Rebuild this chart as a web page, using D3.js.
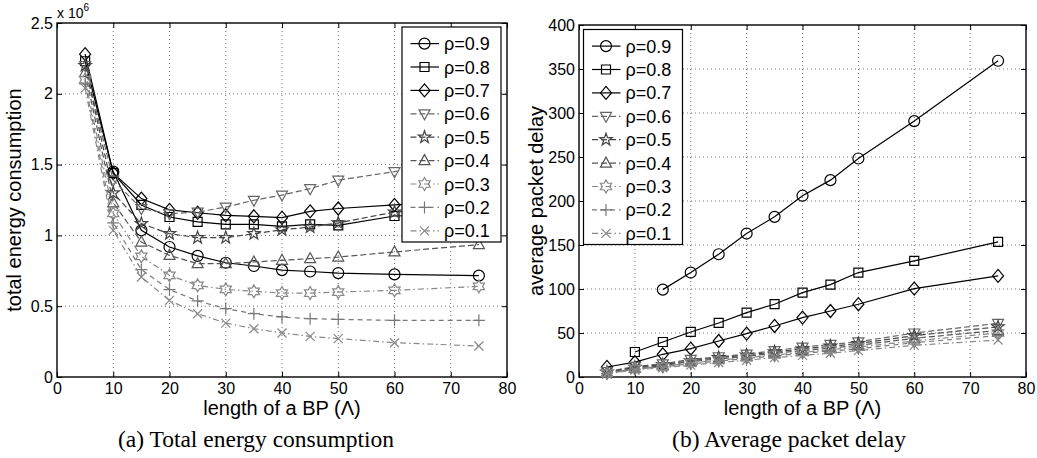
<!DOCTYPE html>
<html>
<head>
<meta charset="utf-8">
<script src="https://cdn.jsdelivr.net/npm/d3@7"></script>
<style>
  body { margin: 0; background: #fff; }
  svg { display: block; font-family: "Liberation Sans", Arial, sans-serif; }
</style>
</head>
<body>
<svg id="chart" width="1037" height="458"></svg>
<script>
// BP length (x values shared by both panels)
const bpLen = [5, 10, 15, 20, 25, 30, 35, 40, 45, 50, 60, 75]
const rhoLabels = ["ρ=0.9", "ρ=0.8", "ρ=0.7", "ρ=0.6", "ρ=0.5", "ρ=0.4", "ρ=0.3", "ρ=0.2", "ρ=0.1"]

// total energy consumption, in units of 10^6
const energy09 = [null, 1.45, 1.036, 0.918, 0.855, 0.807, 0.784, 0.755, 0.745, 0.734, 0.725, 0.716]
const energy08 = [2.23, 1.44, 1.215, 1.13, 1.095, 1.078, 1.078, 1.064, 1.078, 1.071, 1.137, 1.15]
const energy07 = [2.28, 1.44, 1.26, 1.18, 1.16, 1.142, 1.135, 1.125, 1.17, 1.19, 1.215, 1.25]
const energy06 = [2.2, 1.39, 1.19, 1.153, 1.165, 1.2, 1.248, 1.285, 1.33, 1.39, 1.45, 1.55]
const energy05 = [2.2, 1.3, 1.083, 1.012, 0.984, 0.984, 1.012, 1.04, 1.059, 1.088, 1.165, 1.2]
const energy04 = [2.15, 1.23, 0.953, 0.859, 0.8, 0.8, 0.812, 0.824, 0.836, 0.847, 0.883, 0.935]
const energy03 = [2.1, 1.155, 0.852, 0.718, 0.647, 0.619, 0.605, 0.593, 0.593, 0.6, 0.612, 0.64]
const energy02 = [2.07, 1.088, 0.758, 0.617, 0.537, 0.483, 0.447, 0.424, 0.412, 0.407, 0.4, 0.4]
const energy01 = [2.04, 1.036, 0.706, 0.541, 0.447, 0.381, 0.341, 0.311, 0.287, 0.271, 0.242, 0.219]

// average packet delay
const delay09 = [null, null, 99.3, 118.7, 139.5, 163, 182, 206, 223.7, 248.3, 290.8, 359.4]
const delay08 = [null, 28.4, 39.8, 51.2, 61.4, 73.2, 82.7, 95.9, 105, 118.7, 131.9, 153.6]
const delay07 = [11.4, 17, 25.8, 32.2, 40.9, 49.3, 58, 67.5, 75, 82.7, 100.5, 114.9]
const delay06 = [6, 12, 15, 20, 23, 26, 30, 34, 37, 40, 50, 61]
const delay05 = [5.5, 11, 14, 18.5, 22, 25, 28.5, 32, 35, 38, 47, 57]
const delay04 = [5, 10, 13, 17.5, 20.5, 23.5, 27, 30, 33, 36, 44, 53]
const delay03 = [4.5, 9.5, 12, 16, 19, 22, 25, 28, 31, 34, 41, 50]
const delay02 = [4, 9, 11.5, 15, 18, 21, 24, 27, 29.5, 32, 39, 47]
const delay01 = [3.5, 8, 10.5, 13.5, 16.5, 19, 22, 24.5, 27, 30, 36, 42]

const xTicks = [0, 10, 20, 30, 40, 50, 60, 70, 80]
const energyTicks = [0, 0.5, 1, 1.5, 2, 2.5]
const delayTicks = [0, 50, 100, 150, 200, 250, 300, 350, 400]

const energySeries = [energy09, energy08, energy07, energy06, energy05, energy04, energy03, energy02, energy01]
const delaySeries = [delay09, delay08, delay07, delay06, delay05, delay04, delay03, delay02, delay01]

// styles per rho
const styles = [
    { marker: "circle", color: "#000", dash: null },
    { marker: "square", color: "#000", dash: null },
    { marker: "diamond", color: "#000", dash: null },
    { marker: "triDown", color: "#666", dash: "6,3" },
    { marker: "pentagram", color: "#444", dash: "6,3" },
    { marker: "triUp", color: "#555", dash: "6,3" },
    { marker: "hexagram", color: "#888", dash: "6,3,1.5,3" },
    { marker: "plus", color: "#777", dash: "5,4" },
    { marker: "cross", color: "#888", dash: "6,3,1.5,3" },
]

function starPath(n, R, r) {
    let pts = []
    for (let i = 0; i < 2 * n; i++) {
        let a = Math.PI * i / n - Math.PI / 2
        let rad = i % 2 == 0 ? R : r
        pts.push([rad * Math.cos(a), rad * Math.sin(a)])
    }
    return "M" + pts.map(p => p[0].toFixed(2) + "," + p[1].toFixed(2)).join("L") + "Z"
}

function markerPath(m) {
    switch (m) {
        case "circle": return d3.symbol(d3.symbolCircle, 95)()
        case "square": return "M-4.5,-4.5H4.5V4.5H-4.5Z"
        case "diamond": return "M0,-6.5L5.5,0L0,6.5L-5.5,0Z"
        case "triDown": return "M-5.5,-4L5.5,-4L0,6Z"
        case "triUp": return "M-5.5,4L5.5,4L0,-6Z"
        case "pentagram": return starPath(5, 6.5, 2.6)
        case "hexagram": return starPath(6, 6.5, 3.75)
        case "plus": return "M-6,0H6M0,-6V6"
        case "cross": return "M-4.5,-4.5L4.5,4.5M-4.5,4.5L4.5,-4.5"
    }
}

let svg = d3.select("#chart")
svg.append("rect").attr("width", 1037).attr("height", 458).attr("fill", "#fff")

function drawPanel(opt) {
    let x = d3.scaleLinear().domain([0, 80]).range([opt.left, opt.right])
    let y = d3.scaleLinear().domain(opt.yDomain).range([opt.bottom, opt.top])
    let g = svg.append("g")

    // dotted grid
    g.selectAll(".gx").data(xTicks.slice(1, -1)).enter().append("line")
        .attr("x1", d => x(d)).attr("x2", d => x(d))
        .attr("y1", opt.top).attr("y2", opt.bottom)
        .attr("stroke", "#777").attr("stroke-width", 1).attr("stroke-dasharray", "1,3")
    g.selectAll(".gy").data(opt.yTicks.slice(1, -1)).enter().append("line")
        .attr("y1", d => y(d)).attr("y2", d => y(d))
        .attr("x1", opt.left).attr("x2", opt.right)
        .attr("stroke", "#777").attr("stroke-width", 1).attr("stroke-dasharray", "1,3")

    // axes, ticks pointing inward
    let bottomAx = g.append("g").attr("transform", "translate(0," + opt.bottom + ")")
        .call(d3.axisBottom(x).tickValues(xTicks).tickSizeInner(-5).tickSizeOuter(0).tickPadding(6))
    let topAx = g.append("g").attr("transform", "translate(0," + opt.top + ")")
        .call(d3.axisTop(x).tickValues(xTicks).tickSizeInner(-5).tickSizeOuter(0).tickFormat(""))
    let leftAx = g.append("g").attr("transform", "translate(" + opt.left + ",0)")
        .call(d3.axisLeft(y).tickValues(opt.yTicks).tickSizeInner(-5).tickSizeOuter(0).tickPadding(4).tickFormat(opt.fmt))
    let rightAx = g.append("g").attr("transform", "translate(" + opt.right + ",0)")
        .call(d3.axisRight(y).tickValues(opt.yTicks).tickSizeInner(-5).tickSizeOuter(0).tickFormat(""))
    for (let ax of [bottomAx, topAx, leftAx, rightAx]) {
        ax.select(".domain").remove()
        ax.selectAll("line").attr("stroke", "#000").attr("stroke-width", 1)
        ax.selectAll("text").attr("font-size", 16).attr("fill", "#000")
            .attr("font-family", "Liberation Sans, Arial, sans-serif")
    }
    g.append("rect").attr("x", opt.left).attr("y", opt.top)
        .attr("width", opt.right - opt.left).attr("height", opt.bottom - opt.top)
        .attr("fill", "none").attr("stroke", "#000").attr("stroke-width", 1.4)

    // series
    let line = d3.line().defined(d => d[1] != null).x(d => x(d[0])).y(d => y(d[1]))
    opt.series.forEach((vals, i) => {
        let st = styles[i]
        let pts = bpLen.map((b, j) => [b, vals[j]])
        g.append("path").datum(pts).attr("d", line)
            .attr("fill", "none").attr("stroke", st.color).attr("stroke-width", 1.2)
            .attr("stroke-dasharray", st.dash)
        g.selectAll(".m" + i).data(pts.filter(d => d[1] != null)).enter().append("path")
            .attr("d", markerPath(st.marker))
            .attr("transform", d => "translate(" + x(d[0]) + "," + y(d[1]) + ")")
            .attr("fill", "none").attr("stroke", st.color).attr("stroke-width", 1.2)
    })

    // axis labels
    g.append("text").attr("x", (opt.left + opt.right) / 2).attr("y", 415)
        .attr("text-anchor", "middle").attr("font-size", 20).text("length of a BP (Λ)")
    g.append("text")
        .attr("transform", "translate(" + (opt.left - 36) + "," + ((opt.top + opt.bottom) / 2) + ") rotate(-90)")
        .attr("text-anchor", "middle").attr("font-size", 20).text(opt.yLabel)

    // caption
    g.append("text").attr("x", opt.capX).attr("y", 447)
        .attr("text-anchor", "middle").attr("font-size", 23.5)
        .attr("font-family", "Liberation Serif, Times New Roman, serif").text(opt.caption)

    // legend
    let lg = g.append("g").attr("transform", "translate(" + opt.legX + "," + opt.legY + ")")
    lg.append("rect").attr("width", 99).attr("height", 215)
        .attr("fill", "#fff").attr("stroke", "#000").attr("stroke-width", 1.2)
    rhoLabels.forEach((lab, i) => {
        let st = styles[i]
        let cy = 16.6 + i * 23.4
        lg.append("line").attr("x1", 8.5).attr("x2", 37).attr("y1", cy).attr("y2", cy)
            .attr("stroke", st.color).attr("stroke-width", 1.2).attr("stroke-dasharray", st.dash)
        lg.append("path").attr("d", markerPath(st.marker))
            .attr("transform", "translate(22.5," + cy + ")")
            .attr("fill", "none").attr("stroke", st.color).attr("stroke-width", 1.2)
        lg.append("text").attr("x", 42).attr("y", cy + 6.5).attr("font-size", 18).text(lab)
    })
    return g
}

let left = drawPanel({
    left: 57, right: 507, top: 23, bottom: 377,
    yDomain: [0, 2.5], yTicks: energyTicks, fmt: d3.format("~g"),
    series: energySeries, yLabel: "total energy consumption",
    caption: "(a) Total energy consumption", capX: 256,
    legX: 402, legY: 27,
})
let expo = left.append("text").attr("x", 57).attr("y", 18).attr("font-size", 14)
expo.append("tspan").text("x 10")
expo.append("tspan").attr("dy", -7).attr("font-size", 10).text("6")

drawPanel({
    left: 579, right: 1026, top: 25, bottom: 377,
    yDomain: [0, 400], yTicks: delayTicks, fmt: d3.format("d"),
    series: delaySeries, yLabel: "average packet delay",
    caption: "(b) Average packet delay", capX: 789,
    legX: 583.5, legY: 29.5,
})
</script>
</body>
</html>
